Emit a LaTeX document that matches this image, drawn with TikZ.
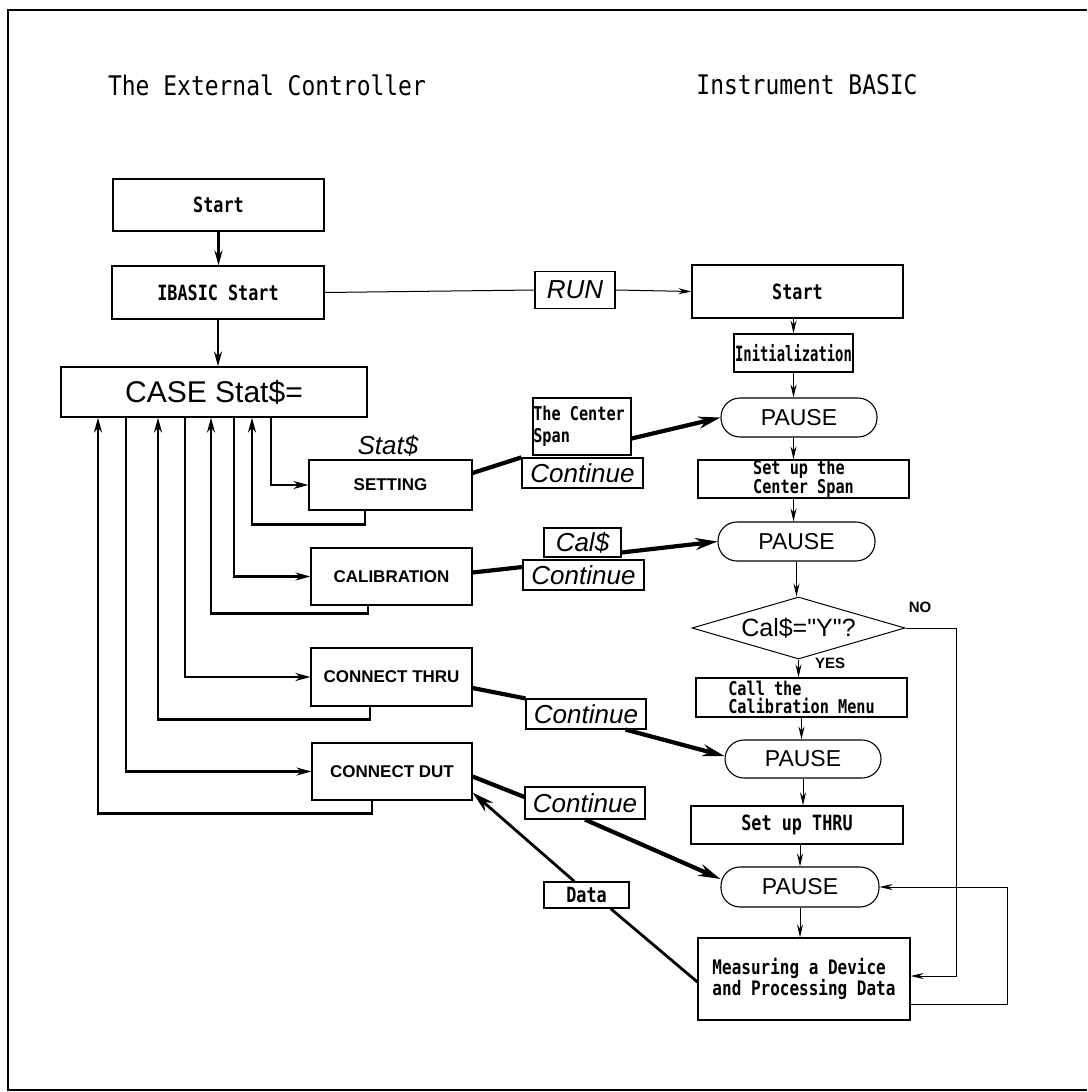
\documentclass[tikz,border=0pt]{standalone}
\usepackage{fontspec}
\setmainfont{Liberation Sans}
\newfontfamily\rawsans{Liberation Sans}
\newfontfamily\monof[FakeStretch=0.8]{DejaVu Sans Mono}
\newfontfamily\mononarrow[FakeStretch=0.66]{DejaVu Sans Mono}
\newfontfamily\titlef[FakeStretch=0.85]{DejaVu Sans Mono}
\usetikzlibrary{arrows.meta,shapes.geometric,calc}
\begin{document}
\begin{tikzpicture}[x=1pt,y=-1pt,
  box/.style={draw, line width=1.2pt, rectangle, inner sep=0pt},
  monotext/.style={font=\monof\bfseries\fontsize{21}{19}\selectfont},
  capstext/.style={font=\bfseries\fontsize{17}{19}\selectfont},
  pausebox/.style={draw, line width=1.1pt, rounded corners=19pt, inner sep=0pt, font=\fontsize{23}{25}\selectfont},
  lbl/.style={draw, line width=1.2pt, inner sep=0pt, font=\itshape\fontsize{26}{28}\selectfont},
  loopline/.style={line width=2.3pt},
  heavy/.style={line width=4.2pt},
  medline/.style={line width=2.8pt},
  thinline/.style={line width=1pt},
  tip/.style={-{Stealth[length=13pt,width=6pt]}},
  ltip/.style={-{Stealth[length=15pt,width=8pt]}},
  bigtip/.style={-{Stealth[length=22pt,width=12pt]}},
]
\useasboundingbox (0,0) rectangle (1087,1092);
\draw[line width=2.2pt] (1087,10) -- (8,10) -- (8,1090) -- (1087,1090);

% titles
\node[font=\titlef\fontsize{27}{29}\selectfont] (t1) at (267,85) {The External Controller};
\node[font=\titlef\fontsize{27}{29}\selectfont] (t2) at (807,85) {Instrument BASIC};

% column x coordinates
\coordinate (x98) at (98,0);
\coordinate (x126) at (126,0);
\coordinate (x158) at (158,0);
\coordinate (x185) at (185,0);
\coordinate (x211) at (211,0);
\coordinate (x234) at (234,0);
\coordinate (x252) at (252,0);
\coordinate (x271) at (271,0);
\coordinate (x365) at (365,0);
\coordinate (x368) at (368,0);
\coordinate (x370) at (370,0);
\coordinate (x372) at (372,0);
\coordinate (nocorner) at (956,976);
\coordinate (fb) at (1007,1004);

% left column
\node[box, monotext, minimum width=211pt, minimum height=52pt] (lstart) at (218.5,205) {Start};
\node[box, monotext, minimum width=212pt, minimum height=53pt] (ibasic) at (218,292.5) {IBASIC Start};
\node[box, font=\fontsize{30}{32}\selectfont, minimum width=306pt, minimum height=50pt] (case) at (214,392) {CASE Stat\$=};
\node[box, capstext, minimum width=163pt, minimum height=50pt] (setting) at (390.5,485) {SETTING};
\node[box, capstext, minimum width=161pt, minimum height=57pt] (calib) at (391.5,576.5) {CALIBRATION};
\node[box, capstext, minimum width=161pt, minimum height=58pt] (thru) at (391.5,677) {CONNECT THRU};
\node[box, capstext, minimum width=160pt, minimum height=57pt] (dut) at (392,771.5) {CONNECT DUT};
\node[font=\itshape\fontsize{26}{28}\selectfont] (stat) at (388,446) {Stat\$};

% right column
\node[box, monotext, minimum width=211pt, minimum height=53pt] (rstart) at (797.5,291.5) {Start};
\node[box, font=\mononarrow\bfseries\fontsize{21}{19}\selectfont, minimum width=119pt, minimum height=38pt] (init) at (793.5,353) {Initialization};
\node[pausebox, minimum width=156pt, minimum height=39pt] (pause1) at (799,417.5) {PAUSE};
\node[box, align=left, font=\monof\bfseries\fontsize{19}{18}\selectfont, minimum width=211pt, minimum height=38pt] (setupcs) at (803.5,479) {Set up the\\Center Span};
\node[pausebox, minimum width=157pt, minimum height=39pt] (pause2) at (796.5,541.5) {PAUSE};
\node[draw, diamond, aspect=3.44, line width=1pt, inner sep=0pt, minimum width=213pt, minimum height=62pt, font=\rawsans\fontsize{25}{27}\selectfont] (dia) at (798.5,628) {Cal\$="Y"?};
\node[font=\bfseries\fontsize{15}{17}\selectfont] (no) at (920,607) {NO};
\node[font=\bfseries\fontsize{15}{17}\selectfont] (yes) at (830,663) {YES};
\node[box, align=left, font=\monof\bfseries\fontsize{19}{18}\selectfont, minimum width=211pt, minimum height=39pt] (callmenu) at (801.5,697.5) {Call the\\Calibration Menu};
\node[pausebox, minimum width=156pt, minimum height=38pt] (pause3) at (803,759) {PAUSE};
\node[box, monotext, minimum width=212pt, minimum height=38pt] (setupthru) at (797,825) {Set up THRU};
\node[pausebox, minimum width=158pt, minimum height=40pt] (pause4) at (800,887) {PAUSE};
\node[box, align=left, font=\monof\bfseries\fontsize{20}{21}\selectfont, minimum width=212pt, minimum height=82pt] (measure) at (804,979) {Measuring a Device\\and Processing Data};

% labels
\node[lbl, minimum width=80pt, minimum height=37pt] (run) at (575,290) {RUN};
\node[box, align=left, font=\monof\bfseries\fontsize{19}{22}\selectfont, minimum width=98pt, minimum height=57pt] (cspan) at (582,426.5) {The Center\\Span\hspace*{3.2em}};
\node[lbl, minimum width=121pt, minimum height=30pt] (cont1) at (582.5,473) {Continue};
\node[lbl, minimum width=77pt, minimum height=29pt] (cal) at (582.5,542.5) {Cal\$};
\node[lbl, minimum width=121pt, minimum height=30pt] (cont2) at (583.5,575) {Continue};
\node[lbl, minimum width=120pt, minimum height=30pt] (cont3) at (586,714) {Continue};
\node[lbl, minimum width=120pt, minimum height=32pt] (cont4) at (585,803) {Continue};
\node[box, monotext, minimum width=85pt, minimum height=26pt] (data) at (586.5,895) {Data};

% left column arrows
\draw[loopline, ltip] (lstart) -- (lstart.south |- ibasic.north);
\draw[loopline, ltip] (ibasic) -- (ibasic.south |- case.north);

% loops
\draw[loopline,ltip] (case.south -| x271) |- (setting.west);
\draw[loopline,ltip] (setting.south -| x365) -- ++(0,14) -| (case.south -| x252);
\draw[loopline,ltip] (case.south -| x234) |- (calib.west);
\draw[loopline,ltip] (calib.south -| x368) -- ++(0,8) -| (case.south -| x211);
\draw[loopline,ltip] (case.south -| x185) |- (thru.west);
\draw[loopline,ltip] (thru.south -| x370) -- ++(0,13) -| (case.south -| x158);
\draw[loopline,ltip] (case.south -| x126) |- (dut.west);
\draw[loopline,ltip] (dut.south -| x372) -- ++(0,13) -| (case.south -| x98);

% RUN
\draw[thinline] (ibasic.east) -- (run.west);
\draw[thinline,tip] (run.east) -- (rstart.west);

% right column flow
\draw[thinline,tip] (rstart.south -| init) -- (init.north);
\draw[thinline,tip] (init.south) -- (init.south |- pause1.north);
\draw[thinline,tip] (pause1.south -| init) -- (init |- setupcs.north);
\draw[thinline,tip] (setupcs.south -| init) -- (init |- pause2.north);
\draw[thinline,tip] (pause2.south) -- (pause2.south |- dia.north);
\draw[thinline,tip] (dia.south) -- (dia.south |- callmenu.north);
\draw[thinline,tip] (callmenu.south) -- (callmenu.south |- pause3.north);
\draw[thinline,tip] (pause3.south) -- (pause3.south |- setupthru.north);
\draw[thinline,tip] (setupthru.south -| pause4) -- (pause4.north);
\draw[thinline,tip] (pause4.south) -- (pause4.south |- measure.north);

% NO branch and feedback
\draw[thinline,tip] (dia.east) -- (dia.east -| nocorner) -- (nocorner) -- (nocorner -| measure.east);
\draw[thinline,tip] (measure.east |- fb) -- (fb) |- (pause4.east);

% heavy connectors
\draw[heavy] ($(setting.east)+(0,-12)$) -- (cont1.north west);
\draw[heavy,bigtip] ($(cspan.east)+(0,12)$) -- (pause1.west);
\draw[heavy] ($(calib.east)+(0,-4)$) -- ($(cont2.west)+(0,-8)$);
\draw[heavy,bigtip] ($(cal.east)+(0,10)$) -- (pause2.west);
\draw[heavy] ($(thru.east)+(0,11)$) -- (cont3.north west);
\draw[heavy,bigtip] ($(cont3.south east)+(-21,0)$) -- ($(pause3.west)+(0,-3)$);
\draw[heavy] ($(dut.east)+(0,5)$) -- ($(cont4.west)+(0,-6)$);
\draw[heavy,bigtip] (cont4.south) -- ($(pause4.west)+(0,-8)$);
\draw[medline] ($(measure.west)+(0,3)$) -- ($(data.south east)+(-19,0)$);
\draw[medline,bigtip] ($(data.north west)+(31,0)$) -- ($(dut.south east)+(0,-8)$);
\end{tikzpicture}
\end{document}
